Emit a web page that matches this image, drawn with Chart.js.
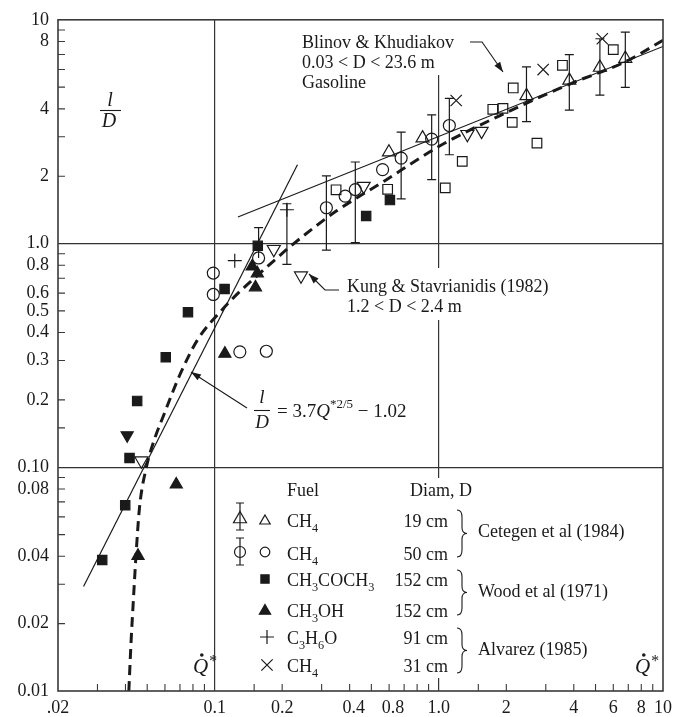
<!DOCTYPE html>
<html>
<head>
<meta charset="utf-8">
<script src="https://cdn.jsdelivr.net/npm/chart.js@4.4.0/dist/chart.umd.min.js"></script>
<style>
  html, body { margin: 0; padding: 0; background: #fff; }
</style>
</head>
<body>
<canvas id="flame" width="673" height="717"></canvas>
<script>
// axis ticks
const xTickVals = [0.02, 0.1, 0.2, 0.4, 0.8, 1, 2, 4, 6, 8, 10];
const xTickText = ['.02', '0.1', '0.2', '0.4', '0.8', '1.0', '2', '4', '6', '8', '10'];
const xMinor = [0.03, 0.04, 0.05, 0.06, 0.07, 0.08, 0.09, 0.15, 0.2, 0.3, 0.4, 0.5, 0.6, 0.7, 0.8, 0.9,
  1.5, 2, 3, 4, 5, 6, 7, 8, 9];
const yTickVals = [0.01, 0.02, 0.04, 0.08, 0.1, 0.2, 0.3, 0.4, 0.5, 0.6, 0.8, 1, 2, 4, 8, 10];
const yTickText = ['0.01', '0.02', '0.04', '0.08', '0.10', '0.2', '0.3', '0.4', '0.5', '0.6', '0.8', '1.0', '2', '4', '8', '10'];
const yMinor = [0.02, 0.03, 0.04, 0.05, 0.06, 0.07, 0.08, 0.09, 0.15, 0.2, 0.3, 0.4, 0.5, 0.6, 0.7, 0.8, 0.9,
  2, 3, 4, 5, 6, 7, 8, 9];
const majorLines = [0.1, 1];

// CH4, 19 cm (Cetegen)
const ch4SmallX = [0.599, 0.846, 2.46, 3.82, 5.23, 6.79];
const ch4SmallY = [2.56, 2.96, 4.57, 5.36, 6.12, 6.71];
const ch4SmallLo = [null, null, 3.51, 3.95, 4.61, 4.99];
const ch4SmallHi = [null, null, 6.16, 6.99, 8.23, 8.80];
// CH4, 50 cm (Cetegen)
const ch4MidX = [0.0986, 0.0986, 0.1295, 0.170, 0.157, 0.315, 0.382, 0.424, 0.561, 0.679, 0.929, 1.114];
const ch4MidY = [0.738, 0.592, 0.328, 0.330, 0.862, 1.445, 1.63, 1.743, 2.14, 2.41, 2.93, 3.37];
const ch4MidLo = [null, null, null, null, null, 0.934, null, 1.01, null, 1.585, 1.931, 2.494];
const ch4MidHi = [null, null, null, null, 1.178, 2.005, null, 2.314, null, 3.146, 3.755, 4.456];
// CH3COCH3, 152 cm (Wood)
const acetoneX = [0.0315, 0.0399, 0.0417, 0.0451, 0.0605, 0.0760, 0.1107, 0.1557, 0.474, 0.605];
const acetoneY = [0.0385, 0.0676, 0.110, 0.198, 0.310, 0.4935, 0.626, 0.977, 1.328, 1.564];
// CH3OH, 152 cm (Wood)
const methanolX = [0.0455, 0.0674, 0.111, 0.147, 0.155, 0.152];
const methanolY = [0.0402, 0.0838, 0.322, 0.790, 0.736, 0.637];
const methanolDownX = [0.0407];
const methanolDownY = [0.139];
// C3H6O, 91 cm (Alvarez)
const propX = [0.1229, 0.210];
const propY = [0.838, 1.416];
const propLo = [null, 0.807];
const propHi = [null, 1.506];
// CH4, 31 cm (Alvarez)
const alvX = [1.195, 2.92, 5.36];
const alvY = [4.36, 5.99, 8.23];
// Blinov & Khudiakov, gasoline
const gasX = [0.348, 0.591, 1.068, 1.272, 1.741, 1.932, 2.125, 2.147, 2.74, 3.56, 6.00];
const gasY = [1.738, 1.747, 1.774, 2.33, 3.98, 4.02, 3.48, 4.96, 2.81, 6.26, 7.36];
// Kung & Stavrianidis
const kungX = [0.0471, 0.1835, 0.2427, 0.462, 1.340, 1.552];
const kungY = [0.107, 0.943, 0.718, 1.805, 3.08, 3.18];

// lines
const steepX = [0.026, 0.234];
const steepY = [0.0293, 2.25];
const blinovX = [0.127, 10];
const blinovY = [1.314, 7.6];
const corrX = [0.0414, 0.0424, 0.0432, 0.0447, 0.0462, 0.0495, 0.0541, 0.0591, 0.0644, 0.0703, 0.0837,
  0.1068, 0.1272, 0.1624, 0.1868, 0.2147, 0.284, 0.35, 0.570, 1.003, 2.0, 3.886, 6.79, 10];
const corrY = [0.01, 0.0169, 0.0237, 0.0423, 0.066, 0.0993, 0.135, 0.170, 0.212, 0.262, 0.37,
  0.50, 0.60, 0.75, 0.85, 0.96, 1.2, 1.40, 1.90, 2.72, 3.85, 5.19, 6.49, 8.1];

const INK = '#1a1a1a';
const SERIF = '"Liberation Serif", "DejaVu Serif", serif';

function pts(xs, ys) { return xs.map((x, i) => ({ x, y: ys[i] })); }
function near(a, b) { return Math.abs(a - b) / b < 1e-6; }
function labelFor(v, vals, text) {
  const i = vals.findIndex(t => near(v, t));
  return i < 0 ? '' : text[i];
}
function allTicks(vals, minor) {
  const s = [...new Set(vals.concat(minor, majorLines))].sort((a, b) => a - b);
  return s.map(v => ({ value: v }));
}

function markers(xs, ys, style, radius, filled, rotation) {
  return {
    data: pts(xs, ys), pointStyle: style, pointRadius: radius, rotation: rotation || 0,
    backgroundColor: filled ? INK : 'rgba(0,0,0,0)', borderColor: INK, borderWidth: 1.2,
    pointHoverRadius: radius
  };
}
function curve(xs, ys, width, dash, smooth) {
  return {
    data: pts(xs, ys), showLine: true, pointRadius: 0, borderColor: INK, borderWidth: width,
    borderDash: dash || [], tension: smooth ? 0.4 : 0, cubicInterpolationMode: smooth ? 'monotone' : 'default',
    fill: false
  };
}

const errGroups = [
  { x: ch4SmallX, y: ch4SmallY, lo: ch4SmallLo, hi: ch4SmallHi },
  { x: ch4MidX, y: ch4MidY, lo: ch4MidLo, hi: ch4MidHi },
  { x: propX, y: propY, lo: propLo, hi: propHi }
];

// small drawing helpers
function arrow(c, path) {
  c.beginPath();
  c.moveTo(path[0][0], path[0][1]);
  for (let i = 1; i < path.length; i++) c.lineTo(path[i][0], path[i][1]);
  c.stroke();
  const [x1, y1] = path[path.length - 2], [x2, y2] = path[path.length - 1];
  const a = Math.atan2(y2 - y1, x2 - x1);
  c.beginPath();
  c.moveTo(x2, y2);
  c.lineTo(x2 - 10 * Math.cos(a) + 3.5 * Math.sin(a), y2 - 10 * Math.sin(a) - 3.5 * Math.cos(a));
  c.lineTo(x2 - 10 * Math.cos(a) - 3.5 * Math.sin(a), y2 - 10 * Math.sin(a) + 3.5 * Math.cos(a));
  c.closePath();
  c.fill();
}
function brace(c, x, y1, y2, w) {
  const ym = (y1 + y2) / 2, h = w * 0.5;
  c.beginPath();
  c.moveTo(x, y1);
  c.quadraticCurveTo(x + h, y1, x + h, y1 + 7);
  c.lineTo(x + h, ym - 6);
  c.quadraticCurveTo(x + h, ym, x + w, ym);
  c.quadraticCurveTo(x + h, ym, x + h, ym + 6);
  c.lineTo(x + h, y2 - 7);
  c.quadraticCurveTo(x + h, y2, x, y2);
  c.stroke();
}
function chem(c, s, x, y, size, align) {
  const runs = [];
  for (const ch of s) runs.push({ ch, sub: /\d/.test(ch) });
  const fontOf = r => (r.sub ? size * 0.68 : size) + 'px ' + SERIF;
  let w = 0;
  runs.forEach(r => { c.font = fontOf(r); w += c.measureText(r.ch).width; });
  let cx = align === 'right' ? x - w : x;
  c.textAlign = 'left';
  runs.forEach(r => {
    c.font = fontOf(r);
    c.fillText(r.ch, cx, r.sub ? y + size * 0.25 : y);
    cx += c.measureText(r.ch).width;
  });
}
function sym(c, style, x, y, r, filled) {
  c.save();
  c.fillStyle = filled ? INK : 'rgba(0,0,0,0)';
  c.beginPath();
  if (style === 'triangle') {
    c.moveTo(x, y - r); c.lineTo(x + r * 0.866, y + r / 2); c.lineTo(x - r * 0.866, y + r / 2); c.closePath();
  } else if (style === 'circle') {
    c.arc(x, y, r, 0, Math.PI * 2);
  } else if (style === 'rect') {
    c.rect(x - r * 0.707, y - r * 0.707, r * 1.414, r * 1.414);
  } else if (style === 'cross') {
    c.moveTo(x - r, y); c.lineTo(x + r, y); c.moveTo(x, y - r); c.lineTo(x, y + r);
  } else if (style === 'crossRot') {
    const d = r * 0.707;
    c.moveTo(x - d, y - d); c.lineTo(x + d, y + d); c.moveTo(x + d, y - d); c.lineTo(x - d, y + d);
  }
  if (style !== 'cross' && style !== 'crossRot') c.fill();
  c.stroke();
  c.restore();
}
function qdot(c, x, y, size) {
  c.font = 'italic ' + size + 'px ' + SERIF;
  c.textAlign = 'left';
  c.fillText('Q', x, y);
  const w = c.measureText('Q').width;
  c.beginPath();
  c.arc(x + w * 0.58, y - size * 0.86, 1.8, 0, Math.PI * 2);
  c.fill();
  c.font = (size * 0.75) + 'px ' + SERIF;
  c.fillText('*', x + w + 1, y - size * 0.35);
}

const figurePlugin = {
  id: 'figure',
  beforeDatasetsDraw(chart) {
    const c = chart.ctx;
    c.save();
    c.fillStyle = '#fff';
    c.fillRect(296, 18, 172, 57);
    c.fillRect(342, 268, 226, 52);
    c.fillRect(226, 478, 396, 200);
    c.restore();
  },
  afterDatasetsDraw(chart) {
    const c = chart.ctx, sx = chart.scales.x, sy = chart.scales.y;
    c.save();
    c.strokeStyle = INK;
    c.lineWidth = 1.2;
    errGroups.forEach(g => {
      g.x.forEach((xv, i) => {
        if (g.lo[i] == null && g.hi[i] == null) return;
        const px = sx.getPixelForValue(xv);
        const top = sy.getPixelForValue(g.hi[i] == null ? g.y[i] : g.hi[i]);
        const bot = sy.getPixelForValue(g.lo[i] == null ? g.y[i] : g.lo[i]);
        c.beginPath();
        c.moveTo(px, top); c.lineTo(px, bot);
        if (g.hi[i] != null) { c.moveTo(px - 4.5, top); c.lineTo(px + 4.5, top); }
        if (g.lo[i] != null) { c.moveTo(px - 4.5, bot); c.lineTo(px + 4.5, bot); }
        c.stroke();
      });
    });
    c.restore();
  },
  afterDraw(chart) {
    const c = chart.ctx, a = chart.chartArea, sx = chart.scales.x, sy = chart.scales.y;
    c.save();
    c.strokeStyle = '#3a3a3a';
    c.fillStyle = INK;
    // frame
    c.lineWidth = 1.6;
    c.strokeRect(a.left, a.top, a.right - a.left, a.bottom - a.top);
    // inward tick marks
    c.lineWidth = 1.1;
    c.beginPath();
    xMinor.forEach(v => {
      const px = sx.getPixelForValue(v);
      c.moveTo(px, a.bottom); c.lineTo(px, a.bottom - 7);
    });
    yMinor.forEach(v => {
      const py = sy.getPixelForValue(v);
      c.moveTo(a.left, py); c.lineTo(a.left + 7, py);
    });
    c.stroke();

    // x tick labels (the 0.8 label sits left of its tick, as in the printed figure)
    c.font = '18px ' + SERIF;
    c.textAlign = 'center';
    c.textBaseline = 'top';
    xTickVals.forEach((v, i) => {
      let px = sx.getPixelForValue(v);
      if (xTickText[i] === '0.8') px -= 24;
      if (xTickText[i] === '0.4') px += 4;
      c.fillText(xTickText[i], px, a.bottom + 8);
    });
    c.textBaseline = 'alphabetic';

    c.strokeStyle = INK;
    c.lineWidth = 1.1;
    // l/D axis title
    c.font = 'italic 20px ' + SERIF;
    c.textAlign = 'center';
    c.fillText('l', 110, 106);
    c.fillText('D', 109, 127);
    c.beginPath(); c.moveTo(100, 110.5); c.lineTo(121, 110.5); c.stroke();

    // Blinov annotation
    c.font = '18px ' + SERIF;
    c.textAlign = 'left';
    c.fillText('Blinov & Khudiakov', 302, 48);
    c.fillText('0.03 < D < 23.6 m', 302, 68);
    c.fillText('Gasoline', 302, 88);
    arrow(c, [[470, 42], [482, 42], [503, 72]]);

    // Kung annotation
    c.fillText('Kung & Stavrianidis (1982)', 347, 292);
    c.fillText('1.2 < D < 2.4 m', 347, 312);
    arrow(c, [[339, 290], [325, 290], [309, 274]]);

    // correlation label
    c.font = 'italic 19px ' + SERIF;
    c.textAlign = 'center';
    c.fillText('l', 262, 403);
    c.fillText('D', 262, 428);
    c.beginPath(); c.moveTo(254, 410.5); c.lineTo(270, 410.5); c.stroke();
    c.textAlign = 'left';
    let tx = 277;
    c.font = '19px ' + SERIF;
    c.fillText('= 3.7', tx, 417); tx += c.measureText('= 3.7').width;
    c.font = 'italic 19px ' + SERIF;
    c.fillText('Q', tx, 417); tx += c.measureText('Q').width;
    c.font = '13px ' + SERIF;
    c.fillText('*2/5', tx, 408); tx += c.measureText('*2/5').width;
    c.font = '19px ' + SERIF;
    c.fillText(' \u2212 1.02', tx, 417);
    arrow(c, [[247, 408], [191, 372]]);

    // Q* labels
    qdot(c, 193, 673, 21);
    qdot(c, 635, 673, 21);

    // legend
    c.font = '18px ' + SERIF;
    c.textAlign = 'left';
    c.fillText('Fuel', 287, 496);
    c.fillText('Diam, D', 410, 496);
    const rows = [
      ['CH4', 527, '19 cm'], ['CH4', 560, '50 cm'], ['CH3COCH3', 586, '152 cm'],
      ['CH3OH', 617, '152 cm'], ['C3H6O', 644, '91 cm'], ['CH4', 672, '31 cm']
    ];
    rows.forEach(r => {
      chem(c, r[0], 287, r[1], 18);
      c.font = '18px ' + SERIF;
      c.textAlign = 'right';
      c.fillText(r[2], 448, r[1]);
    });
    c.textAlign = 'left';
    c.fillText('Cetegen et al (1984)', 478, 537);
    c.fillText('Wood et al (1971)', 478, 597);
    c.fillText('Alvarez (1985)', 478, 655);
    brace(c, 457, 510, 557, 10);
    brace(c, 457, 570, 615, 10);
    brace(c, 457, 628, 673, 10);

    c.strokeStyle = INK;
    c.lineWidth = 1.2;
    // error-bar swatches
    c.beginPath();
    c.moveTo(240, 503); c.lineTo(240, 530); c.moveTo(236, 503); c.lineTo(244, 503); c.moveTo(236, 530); c.lineTo(244, 530);
    c.moveTo(240, 538); c.lineTo(240, 565); c.moveTo(236, 538); c.lineTo(244, 538); c.moveTo(236, 565); c.lineTo(244, 565);
    c.stroke();
    sym(c, 'triangle', 240, 519, 7.5, false);
    sym(c, 'circle', 240, 552, 5.5, false);
    sym(c, 'triangle', 265, 521, 6, false);
    sym(c, 'circle', 265, 552, 4.8, false);
    sym(c, 'rect', 265, 579, 5.8, true);
    sym(c, 'triangle', 265, 611, 6.5, true);
    sym(c, 'cross', 267, 637, 7, false);
    sym(c, 'crossRot', 267, 665, 8, false);
    c.restore();
  }
};

new Chart(document.getElementById('flame'), {
  type: 'scatter',
  data: {
    datasets: [
      markers(ch4SmallX, ch4SmallY, 'triangle', 7.5, false),
      markers(ch4MidX, ch4MidY, 'circle', 6, false),
      markers(acetoneX, acetoneY, 'rect', 6.6, true),
      markers(methanolX, methanolY, 'triangle', 7, true),
      markers(methanolDownX, methanolDownY, 'triangle', 7, true, 180),
      markers(propX, propY, 'cross', 7, false),
      markers(alvX, alvY, 'crossRot', 8, false),
      markers(gasX, gasY, 'rect', 6.8, false),
      markers(kungX, kungY, 'triangle', 7.5, false, 180),
      curve(steepX, steepY, 1.2),
      curve(blinovX, blinovY, 1.2),
      curve(corrX, corrY, 3, [10, 6], true)
    ]
  },
  options: {
    responsive: false,
    animation: false,
    layout: { padding: { top: 16, right: 10, left: 0, bottom: 0 } },
    plugins: { legend: { display: false }, tooltip: { enabled: false } },
    scales: {
      x: {
        type: 'logarithmic', min: 0.02, max: 10,
        afterBuildTicks: s => { s.ticks = allTicks(xTickVals, xMinor); },
        afterFit: s => { s.height = 26; },
        border: { display: false },
        grid: {
          drawTicks: false, lineWidth: 1.2,
          color: c => (c.tick && majorLines.some(m => near(c.tick.value, m))) ? '#333' : 'rgba(0,0,0,0)'
        },
        ticks: { display: false, autoSkip: false }
      },
      y: {
        type: 'logarithmic', min: 0.01, max: 10,
        afterBuildTicks: s => { s.ticks = allTicks(yTickVals, yMinor); },
        afterFit: s => { s.width = 58; },
        border: { display: false },
        grid: {
          drawTicks: false, lineWidth: 1.2,
          color: c => (c.tick && majorLines.some(m => near(c.tick.value, m))) ? '#333' : 'rgba(0,0,0,0)'
        },
        ticks: {
          autoSkip: false, padding: 9, color: INK,
          font: { family: SERIF, size: 18 },
          callback: v => labelFor(v, yTickVals, yTickText)
        }
      }
    }
  },
  plugins: [figurePlugin]
});
</script>
</body>
</html>
